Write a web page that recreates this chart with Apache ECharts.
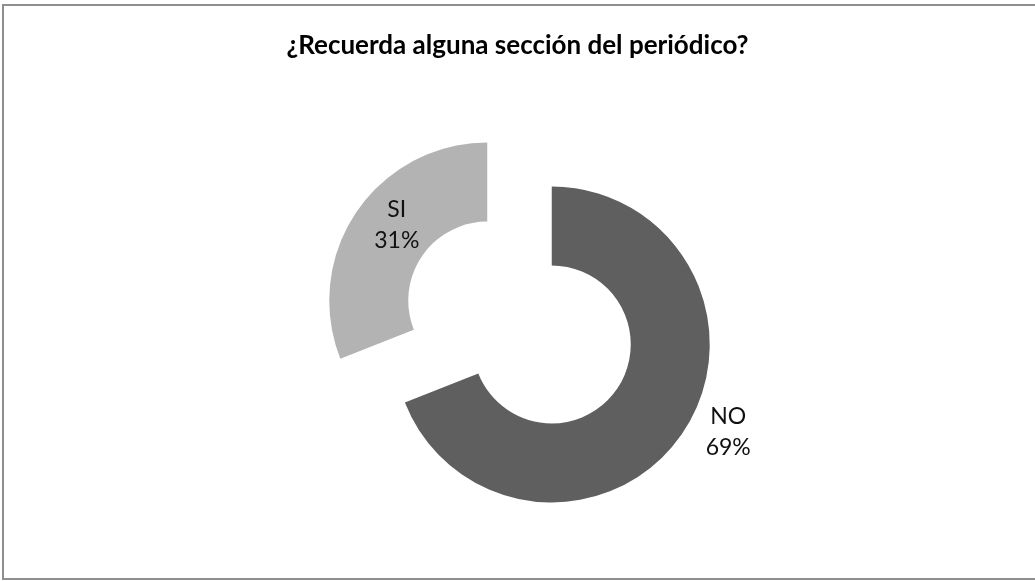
<!DOCTYPE html>
<html>
<head>
<meta charset="utf-8">
<script src="https://cdn.jsdelivr.net/npm/echarts@6/dist/echarts.min.js"></script>
<style>
  html, body { margin: 0; padding: 0; background: #fff; }
  #chart { width: 1035px; height: 581px; }
</style>
</head>
<body>
<div id="chart"></div>
<script>
  var categories = ['SI', 'NO']
  var values = [31, 69]
  var colors = ['#b3b3b3', '#5f5f5f']
  // label nudges from the default "inside" spot
  var labelShift = [[10, -7], [76, 19]]

  var chart = echarts.init(document.getElementById('chart'))

  var data = categories.map(function (c, i) {
    return {
      name: c,
      value: values[i],
      selected: true,
      itemStyle: { color: colors[i] }
    }
  })

  chart.setOption({
    animation: false,
    title: {
      text: '¿Recuerda alguna sección del periódico?',
      left: 'center',
      top: 28,
      textStyle: { fontFamily: 'Lato', fontSize: 26, fontWeight: 'bold', color: '#000' }
    },
    graphic: [{
      type: 'rect',
      shape: { x: 3, y: 5, width: 1100, height: 574 },
      style: { fill: 'none', stroke: '#8e8e8e', lineWidth: 2 },
      silent: true
    }],
    series: [{
      type: 'pie',
      center: [519.5, 322.5],
      radius: [79, 158],
      startAngle: 90,
      clockwise: false,
      selectedMode: 'multiple',
      selectedOffset: 39,
      labelLine: { show: false },
      label: {
        position: 'inside',
        formatter: '{b}\n{d}%',
        fontFamily: 'Lato',
        fontSize: 23,
        lineHeight: 31,
        color: '#111'
      },
      labelLayout: function (p) {
        return { dx: labelShift[p.dataIndex][0], dy: labelShift[p.dataIndex][1] }
      },
      emphasis: { disabled: true },
      data: data
    }]
  })
</script>
</body>
</html>
